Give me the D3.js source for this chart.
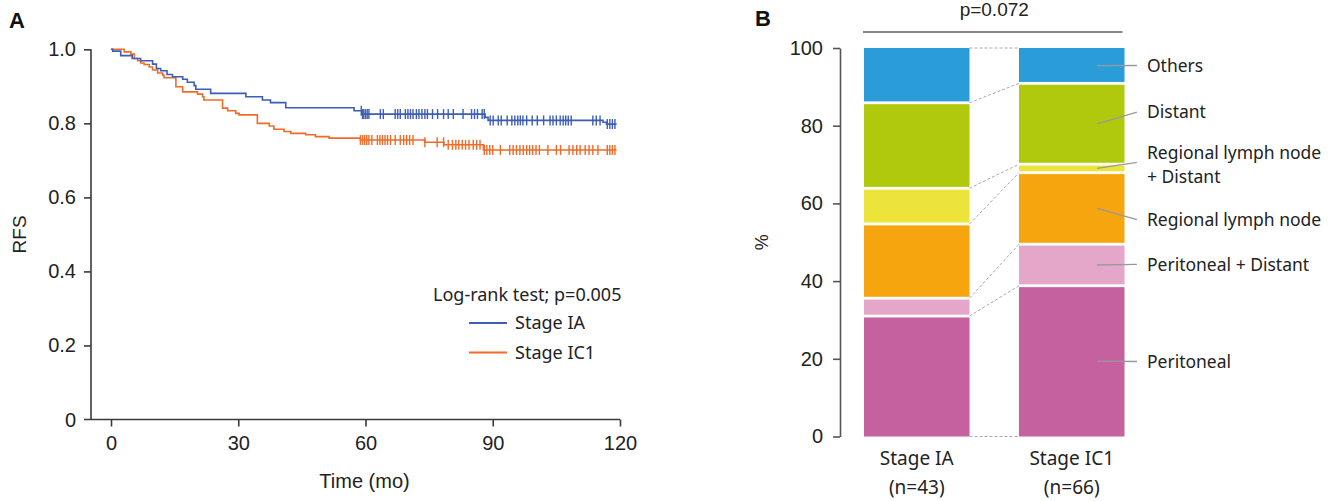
<!DOCTYPE html>
<html>
<head>
<meta charset="utf-8">
<script src="https://cdn.jsdelivr.net/npm/d3@7"></script>
<style>
  body { margin: 0; background: #fff; }
  svg { display: block; }
</style>
</head>
<body>
<div id="chart"></div>
<script>
// ---- panel A : Kaplan-Meier RFS ----
var groups = ["Stage IA", "Stage IC1"];
var groupColors = ["#3d5db6", "#f06a28"];

// step drops: time (months) and survival after the drop
var iaTimes = [0.4, 2.3, 5.0, 7.0, 9.8, 10.7, 11.7, 13.2, 14.5, 16.9, 18.0, 19.6, 20.0, 23.5, 31.8, 35.7, 37.6, 41.2, 57.3, 59.2, 88.2, 88.9, 116.0, 116.8];
var iaSurv  = [0.995, 0.983, 0.975, 0.969, 0.960, 0.948, 0.942, 0.932, 0.926, 0.919, 0.911, 0.902, 0.892, 0.881, 0.872, 0.863, 0.856, 0.842, 0.834, 0.825, 0.816, 0.808, 0.803, 0.798];
var ic1Times = [3.1, 4.7, 5.5, 6.3, 7.0, 7.8, 9.0, 9.8, 11.0, 12.2, 12.5, 15.3, 16.9, 20.4, 21.6, 21.9, 26.3, 27.5, 29.4, 30.2, 34.5, 37.3, 38.4, 40.8, 42.4, 45.9, 48.2, 51.4, 58.8, 74.0, 78.5, 87.8];
var ic1Surv  = [0.993, 0.987, 0.975, 0.969, 0.963, 0.959, 0.952, 0.944, 0.936, 0.930, 0.923, 0.899, 0.885, 0.879, 0.872, 0.863, 0.841, 0.834, 0.827, 0.823, 0.800, 0.793, 0.784, 0.778, 0.773, 0.769, 0.764, 0.760, 0.755, 0.749, 0.742, 0.728];
var followEnd = 119.2;

// censored observations (months)
var iaCensor = [59, 59.3, 59.6, 60, 60.4, 60.8, 63.5, 64.2, 67, 67.6, 68.2, 69.4, 70, 70.6, 71.2, 72, 72.6, 73.3, 74, 74.6, 75.8, 77, 78.4, 79.5, 80.7, 83, 85, 85.7, 86.4, 87.5, 88, 89.4, 90.1, 91.3, 92, 93.4, 94.5, 95.2, 95.9, 96.5, 97.1, 98, 99.3, 100.5, 102, 103.5, 104.2, 105, 105.9, 106.6, 107.2, 107.8, 108.5, 113.6, 114.4, 115.3, 117, 117.6, 118.2, 118.8];
var ic1Censor = [58.8, 59.3, 59.8, 60.3, 60.8, 61.5, 62.8, 63.4, 64, 64.6, 65.2, 65.9, 67, 68.2, 69, 69.7, 70.4, 71.2, 74, 76.9, 78.4, 79.5, 80.5, 81.3, 82, 82.8, 83.6, 84.4, 85.4, 86.2, 87, 88, 88.6, 89.3, 90, 91.8, 94, 94.8, 95.6, 96.4, 97.2, 98, 98.7, 99.4, 100.2, 101, 103, 105, 106, 108, 108.9, 109.8, 110.6, 111.8, 112.7, 113.6, 114.8, 117, 117.6, 118.2, 118.8];

var kmXTicks = [0, 30, 60, 90, 120];
var kmYTicks = [0, 0.2, 0.4, 0.6, 0.8, 1.0];
var logRankText = "Log-rank test; p=0.005";

// ---- panel B : recurrence pattern ----
var stages = ["Stage IA", "Stage IC1"];
var stageN = ["(n=43)", "(n=66)"];
var sites = ["Peritoneal", "Peritoneal + Distant", "Regional lymph node", "Regional lymph node + Distant", "Distant", "Others"];
var siteColors = ["#c4619e", "#e4a7c9", "#f6a50f", "#ece43a", "#b0c90c", "#2a9dd8"];
var iaPct  = [31.0, 4.6, 19.1, 9.2, 22.0, 14.1];
var ic1Pct = [38.8, 10.7, 18.4, 2.2, 20.8, 9.1];
var pctTicks = [0, 20, 40, 60, 80, 100];
var chiText = "p=0.072";

var W = 1338, H = 501;
var numFont = "'Liberation Sans', Arial, sans-serif";
var txtFont = "'Noto Sans', sans-serif";
var axisColor = "#3a3a3a";

var svg = d3.select("#chart").append("svg")
    .attr("width", W)
    .attr("height", H);

// panel letters
svg.append("text").attr("x", 9).attr("y", 28).text("A")
    .attr("font-family", numFont).attr("font-weight", "bold").attr("font-size", 22).attr("fill", "#111");
svg.append("text").attr("x", 755).attr("y", 26).text("B")
    .attr("font-family", numFont).attr("font-weight", "bold").attr("font-size", 22).attr("fill", "#111");

// ================= panel A =================
var x = d3.scaleLinear().domain([0, 120]).range([111, 620]);
var y = d3.scaleLinear().domain([0, 1]).range([419.5, 49.3]);
var axisLeftX = 91;

var gA = svg.append("g");

var yAxis = gA.append("g")
    .attr("transform", "translate(" + axisLeftX + ",0)")
    .call(d3.axisLeft(y).tickValues(kmYTicks.slice(1)).tickSize(7).tickSizeOuter(0).tickPadding(8)
        .tickFormat(d3.format(".1f")));
yAxis.select(".domain").attr("d", "M0," + y(1) + "V" + y(0));
// the "0" label sits on the x-axis line
gA.append("text").attr("x", axisLeftX - 15).attr("y", y(0)).attr("dy", "0.35em")
    .attr("text-anchor", "end").text("0");

var xAxis = gA.append("g")
    .attr("transform", "translate(0," + y(0) + ")")
    .call(d3.axisBottom(x).tickValues(kmXTicks).tickSize(7).tickSizeOuter(0).tickPadding(9));
xAxis.select(".domain").attr("d", "M" + (axisLeftX - 7) + ",0H" + x(120));

gA.selectAll("text").attr("font-family", numFont).attr("font-size", 20).attr("fill", "#222");
gA.selectAll(".domain, .tick line").attr("stroke", axisColor).attr("stroke-width", 1.6);

gA.append("text")
    .attr("transform", "translate(26," + ((y(0) + y(1)) / 2) + ") rotate(-90)")
    .attr("text-anchor", "middle")
    .attr("font-family", numFont).attr("font-size", 19).attr("fill", "#222")
    .text("RFS");
gA.append("text")
    .attr("x", (x(0) + x(120)) / 2 - 1).attr("y", 488)
    .attr("text-anchor", "middle")
    .attr("font-family", numFont).attr("font-size", 20).attr("fill", "#222")
    .text("Time (mo)");

function kmPoints(times, surv) {
    var pts = [[0, 1]];
    times.forEach(function(t, i) { pts.push([t, surv[i]]); });
    pts.push([followEnd, surv[surv.length - 1]]);
    return pts;
}
function survAt(pts, t) {
    var s = 1;
    pts.forEach(function(p) { if (p[0] <= t) s = p[1]; });
    return s;
}

var kmLine = d3.line()
    .x(function(d) { return x(d[0]); })
    .y(function(d) { return y(d[1]); })
    .curve(d3.curveStepAfter);

var curves = [
    { pts: kmPoints(iaTimes, iaSurv), censor: iaCensor, color: groupColors[0] },
    { pts: kmPoints(ic1Times, ic1Surv), censor: ic1Censor, color: groupColors[1] }
];

// draw IC1 first so IA sits on top where they overlap
curves.slice().reverse().forEach(function(c) {
    gA.append("path")
        .attr("d", kmLine(c.pts))
        .attr("fill", "none")
        .attr("stroke", c.color)
        .attr("stroke-width", 1.6);
    gA.selectAll(null)
        .data(c.censor)
        .enter()
        .append("line")
        .attr("x1", function(t) { return x(t); })
        .attr("x2", function(t) { return x(t); })
        .attr("y1", function(t) { return y(survAt(c.pts, t)) - 5; })
        .attr("y2", function(t) { return y(survAt(c.pts, t)) + 5; })
        .attr("stroke", c.color)
        .attr("stroke-width", 1.4);
});

// legend
gA.append("text").attr("x", 433).attr("y", 301)
    .attr("font-family", txtFont).attr("font-size", 18).attr("fill", "#222")
    .text(logRankText);
groups.forEach(function(g, i) {
    var ly = 323 + i * 29.5;
    gA.append("line").attr("x1", 469).attr("x2", 507).attr("y1", ly).attr("y2", ly)
        .attr("stroke", groupColors[i]).attr("stroke-width", 2);
    gA.append("text").attr("x", 515).attr("y", ly).attr("dy", "0.35em")
        .attr("font-family", txtFont).attr("font-size", 18).attr("fill", "#222")
        .text(g);
});

// ================= panel B =================
var yB = d3.scaleLinear().domain([0, 100]).range([436.5, 48]);
var xB = d3.scaleBand().domain(stages).range([864, 1124.5]).paddingInner(0.319).paddingOuter(0);
var axisBX = 840;

var gB = svg.append("g");

var yAxisB = gB.append("g")
    .attr("transform", "translate(" + axisBX + ",0)")
    .call(d3.axisLeft(yB).tickValues(pctTicks).tickSize(7).tickSizeOuter(0).tickPadding(10));
yAxisB.selectAll("text").attr("font-family", numFont).attr("font-size", 20).attr("fill", "#222");
yAxisB.selectAll(".domain, .tick line").attr("stroke", "#555").attr("stroke-width", 1.6);

gB.append("text")
    .attr("transform", "translate(768," + yB(50) + ") rotate(-90)")
    .attr("text-anchor", "middle")
    .attr("font-family", numFont).attr("font-size", 18).attr("fill", "#222")
    .text("%");

// stacked bars
var stackRows = stages.map(function(s, i) {
    var row = { stage: s };
    var vals = i === 0 ? iaPct : ic1Pct;
    sites.forEach(function(site, k) { row[site] = vals[k]; });
    return row;
});
var series = d3.stack().keys(sites)(stackRows);
var gap = 1.4;

series.forEach(function(layer, k) {
    gB.selectAll(null)
        .data(layer)
        .enter()
        .append("rect")
        .attr("x", function(d) { return xB(d.data.stage); })
        .attr("width", xB.bandwidth())
        .attr("y", function(d) { return yB(d[1]) + (d[1] < 99.9 ? gap : 0); })
        .attr("height", function(d) {
            var top = yB(d[1]) + (d[1] < 99.9 ? gap : 0);
            var bot = yB(d[0]) - (d[0] > 0.1 ? gap : 0);
            return Math.max(0, bot - top);
        })
        .attr("fill", siteColors[k]);
});

// dashed connectors between the bars at each cumulative boundary
var bounds = [[0, 0]];
series.forEach(function(layer) { bounds.push([layer[0][1], layer[1][1]]); });
var xRight1 = xB(stages[0]) + xB.bandwidth();
var xLeft2 = xB(stages[1]);
gB.selectAll(null)
    .data(bounds)
    .enter()
    .append("line")
    .attr("x1", xRight1).attr("x2", xLeft2)
    .attr("y1", function(d) { return yB(d[0]); })
    .attr("y2", function(d) { return yB(d[1]); })
    .attr("stroke", "#aaa")
    .attr("stroke-width", 1)
    .attr("stroke-dasharray", "3,2");

// significance bracket
gB.append("line")
    .attr("x1", xB(stages[0]) - 1).attr("x2", xB(stages[1]) + xB.bandwidth() - 2)
    .attr("y1", 32).attr("y2", 32)
    .attr("stroke", "#111").attr("stroke-width", 1.2);
gB.append("text")
    .attr("x", (xB(stages[0]) + xB(stages[1]) + xB.bandwidth()) / 2).attr("y", 16)
    .attr("text-anchor", "middle")
    .attr("font-family", numFont).attr("font-size", 19).attr("fill", "#222")
    .text(chiText);

// category labels under bars
stages.forEach(function(s, i) {
    var cx = xB(s) + xB.bandwidth() / 2;
    gB.append("text").attr("x", cx).attr("y", 465)
        .attr("text-anchor", "middle")
        .attr("font-family", txtFont).attr("font-size", 19).attr("fill", "#222")
        .text(s);
    gB.append("text").attr("x", cx).attr("y", 494)
        .attr("text-anchor", "middle")
        .attr("font-family", txtFont).attr("font-size", 19).attr("fill", "#222")
        .text(stageN[i]);
});

// labels with leader lines, anchored on the Stage IC1 bar
var labelPct = [19.3, 44.3, 55.8, 69.8, 83.5, 95.5];
var leadX1 = xLeft2 + 78, leadX2 = xLeft2 + 118, labelX = xLeft2 + 128;
series.forEach(function(layer, k) {
    var d = layer[1];
    var mid = (d[0] + d[1]) / 2;
    var ly = yB(labelPct[k]);
    gB.append("line")
        .attr("x1", leadX1).attr("x2", leadX2)
        .attr("y1", yB(mid)).attr("y2", k === 3 ? ly - 3 : ly)
        .attr("stroke", "#999").attr("stroke-width", 1.3);
    var t = gB.append("text")
        .attr("x", labelX).attr("y", ly)
        .attr("font-family", txtFont).attr("font-size", 17.5).attr("fill", "#222");
    if (sites[k] === "Regional lymph node + Distant") {
        t.append("tspan").attr("x", labelX).attr("dy", "-0.35em").text("Regional lymph node");
        t.append("tspan").attr("x", labelX).attr("dy", "1.35em").text("+ Distant");
    } else {
        t.attr("dy", "0.35em").text(sites[k]);
    }
});
</script>
</body>
</html>
